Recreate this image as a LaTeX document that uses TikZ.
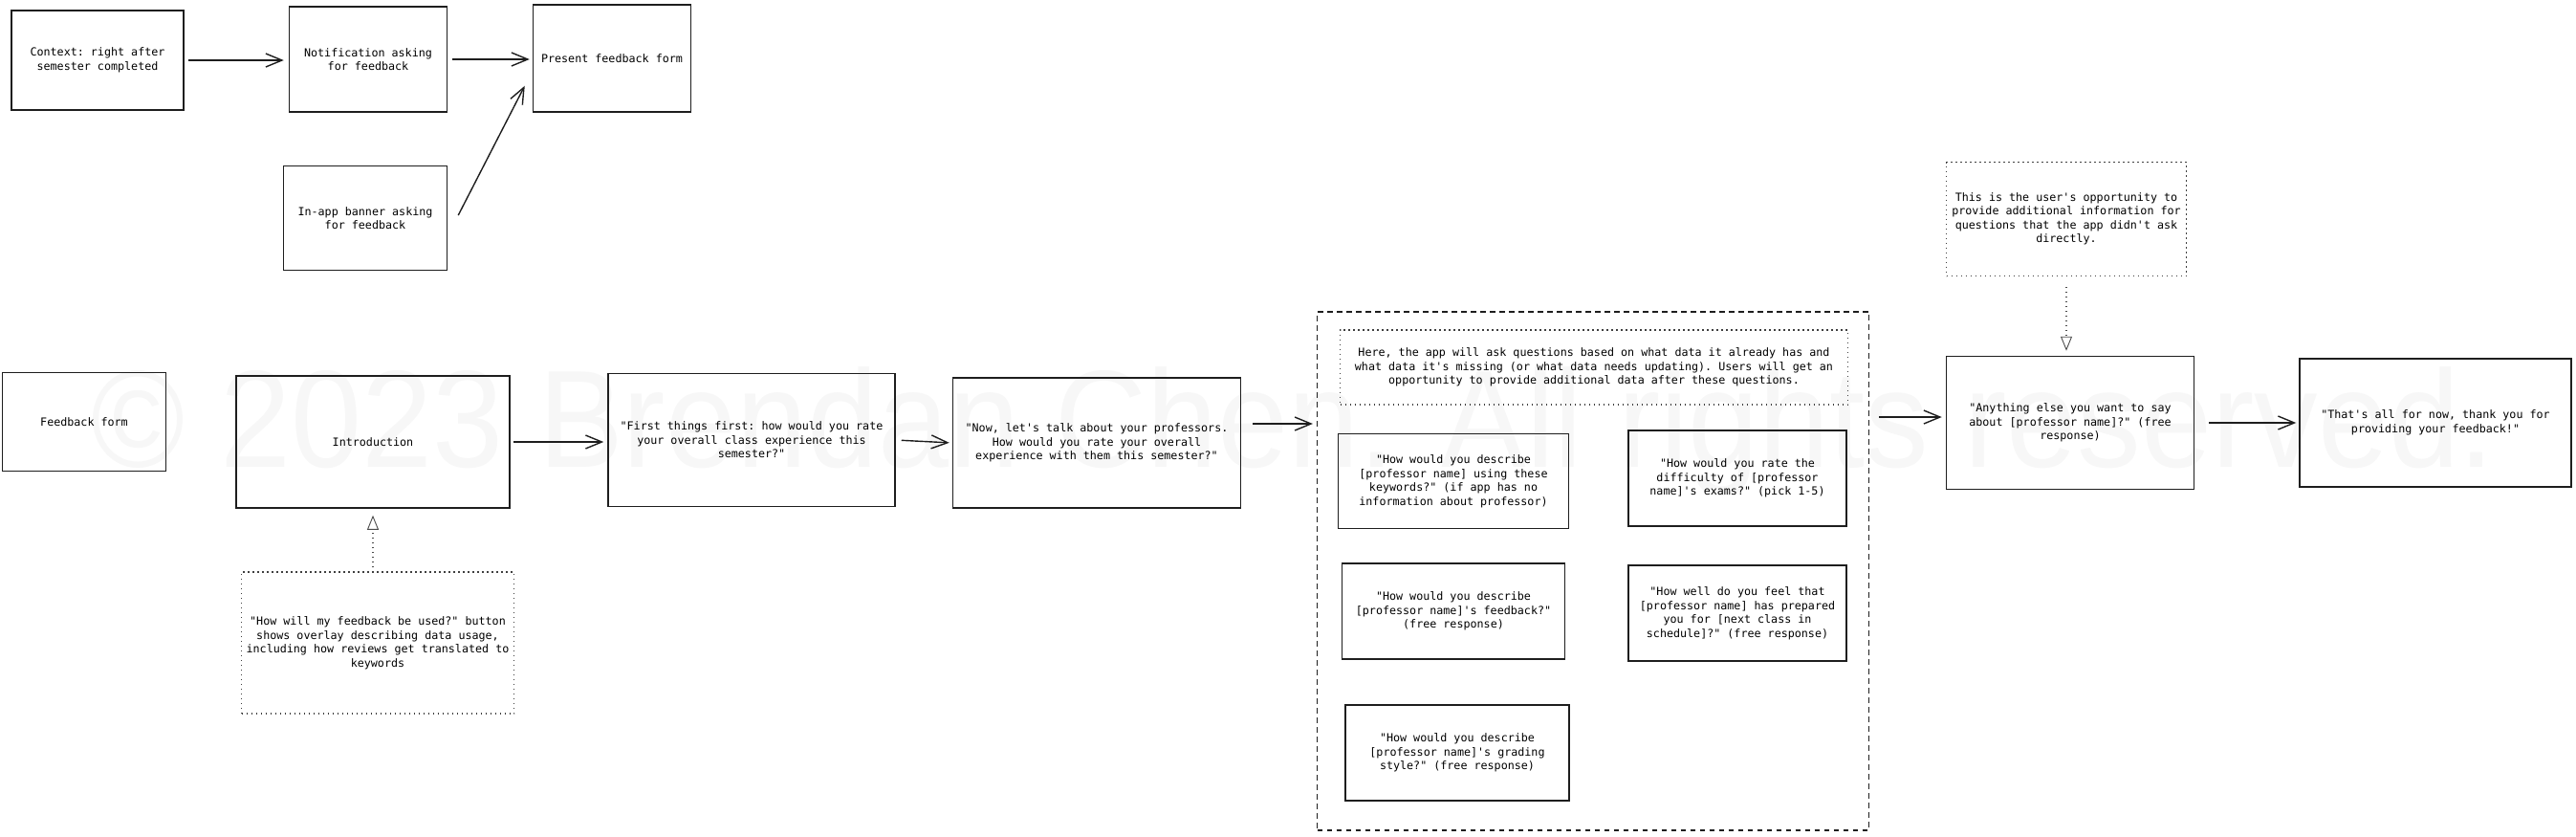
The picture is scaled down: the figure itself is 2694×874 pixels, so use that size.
\documentclass[tikz,border=0pt]{standalone}
\usepackage{fontspec}
\setmonofont{DejaVu Sans Mono}
\newfontfamily\wmfont{Liberation Sans}
\usetikzlibrary{arrows.meta,calc}
\definecolor{ink}{HTML}{1E1E1E}
\definecolor{wmgray}{HTML}{F7F7F7}
\newcommand\qfont{\ttfamily\fontsize{5.85}{7.25}\selectfont}
\begin{document}
\begin{tikzpicture}[x=0.5pt,y=-0.5pt,
  box/.style={draw=ink, line width=0.75pt, inner sep=0pt, align=center, font=\qfont},
  dotbox/.style={box, draw=ink!85, line width=0.6pt, dash pattern=on 0.6pt off 1.9pt},
  dashbox/.style={draw=ink, line width=0.6pt, inner sep=0pt, dash pattern=on 2.8pt off 2.2pt},
  sz/.style 2 args={minimum width=#1*0.5pt, minimum height=#2*0.5pt},
  arr/.style={draw=ink, line width=0.7pt, -{Straight Barb[length=8.5pt,width=7pt]}},
  dotarr/.style={draw=ink!80, line width=0.6pt, dash pattern=on 0.6pt off 1.9pt, -{Triangle[open,length=7.5pt,width=6pt,line width=0.45pt]}},
]
\useasboundingbox (0,0) rectangle (2694,874);
% watermark
\node[anchor=base west, inner sep=0pt, text=wmgray] (wm) at (95,488)
  {\resizebox{1256.5pt}{52.5pt}{\wmfont © 2023 Brendan Chen. All rights reserved.}};

% top row
\node[box, sz={180}{104}] (ctx) at (102,63) {Context: right after\\semester completed};
\node[box, sz={165}{110}] (notif) at (385,62) {Notification asking\\for feedback};
\node[box, sz={165}{112}] (present) at (640,61) {Present feedback form};
\node[box, sz={171}{109}] (inapp) at (382,228) {In-app banner asking\\for feedback};

% bottom row
\node[box, sz={171}{103}] (fbform) at (88,441) {Feedback form};
\node[box, sz={286}{138}] (intro) at (390,462) {Introduction};
\node[box, sz={300}{139}] (first) at (786,460) {"First things first: how would you rate\\your overall class experience this\\semester?"};
\node[box, sz={301}{136}] (now) at (1147,463) {"Now, let's talk about your professors.\\How would you rate your overall\\experience with them this semester?"};
\node[dotbox, sz={285}{148}] (howwill) at (395,672) {"How will my feedback be used?" button\\shows overlay describing data usage,\\including how reviews get translated to\\keywords};

% container
\node[dashbox, sz={577}{542}] (cont) at (1666,597) {};
\node[dotbox, sz={531}{78}] (hdr) at (1667,384) {Here, the app will ask questions based on what data it already has and\\what data it's missing (or what data needs updating). Users will get an\\opportunity to provide additional data after these questions.};
\node[box, sz={241}{99}] (q1) at (1520,503) {"How would you describe\\{[}professor name] using these\\keywords?" (if app has no\\information about professor)};
\node[box, sz={228}{100}] (q2) at (1817,500) {"How would you rate the\\difficulty of [professor\\name]'s exams?" (pick 1-5)};
\node[box, sz={233}{100}] (q3) at (1520,639) {"How would you describe\\{[}professor name]'s feedback?"\\(free response)};
\node[box, sz={228}{100}] (q4) at (1817,641) {"How well do you feel that\\{[}professor name] has prepared\\you for [next class in\\schedule]?" (free response)};
\node[box, sz={234}{100}] (q5) at (1524,787) {"How would you describe\\{[}professor name]'s grading\\style?" (free response)};

% right part
\node[dotbox, sz={251}{119}] (this) at (2161,229) {This is the user's opportunity to\\provide additional information for\\questions that the app didn't ask\\directly.};
\node[box, sz={259}{139}] (any) at (2165,442) {"Anything else you want to say\\about [professor name]?" (free\\response)};
\node[box, sz={284}{134}] (thats) at (2547,442) {"That's all for now, thank you for\\providing your feedback!"};

% connectors, top
\draw[arr, shorten <=2pt, shorten >=2.5pt] (ctx.east) -- (ctx.east -| notif.west);
\draw[arr, shorten <=2.5pt, shorten >=1.5pt] (notif.east) -- (notif.east -| present.west);
\draw[arr] ($(inapp.east)+(11,-3)$) -- ($(present.south west)+(-8,-28)$);

% connectors, bottom
\draw[arr, shorten <=1.5pt, shorten >=2pt] (intro.east) -- (intro.east -| first.west);
\draw[arr, shorten <=3pt, shorten >=1.5pt] (first.east) -- (now.west);
\draw[arr] ($(now.east)+(12,-20)$) -- ($(cont.west |- now.east)+(-4,-20)$);
\draw[arr] ($(cont.east |- any.west)+(10,-6)$) -- ($(any.west)+(-4,-6)$);
\draw[arr, shorten <=7.5pt, shorten >=1.5pt] (any.east) -- (thats.west);

% dotted hints
\draw[dotarr] ($(intro.south |- howwill.north)+(0,-4)$) -- ($(intro.south)+(0,7)$);
\draw[dotarr] ($(this.south)+(0,11)$) -- ($(this.south |- any.north)+(0,-5)$);
\end{tikzpicture}
\end{document}
